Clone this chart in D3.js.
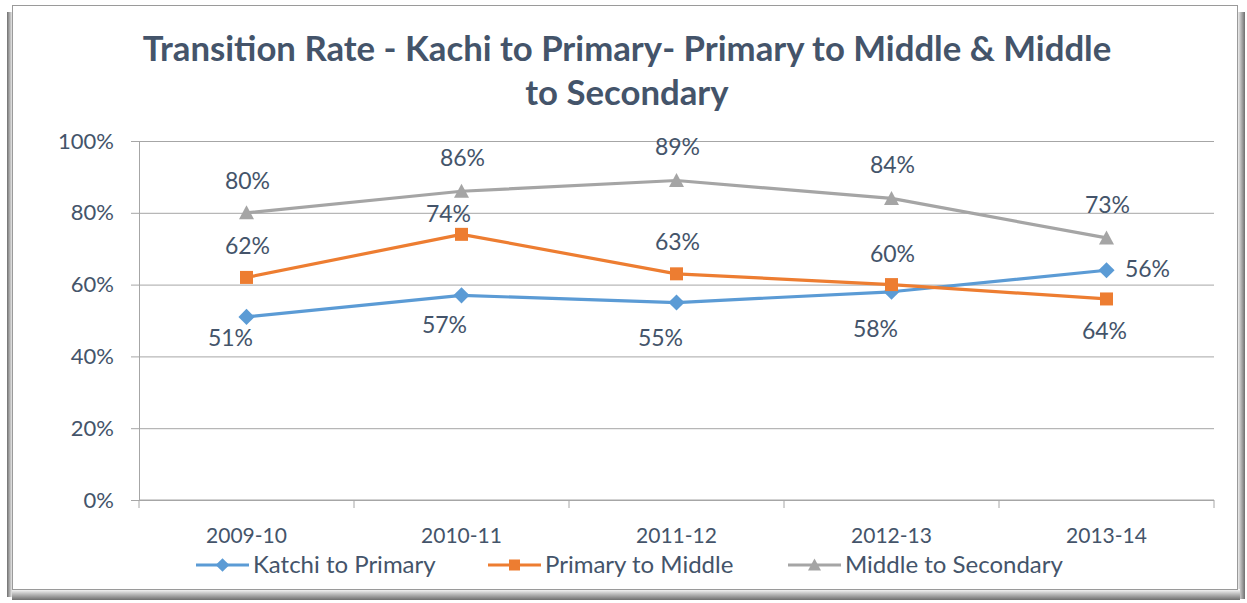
<!DOCTYPE html>
<html>
<head>
<meta charset="utf-8">
<script src="https://cdn.jsdelivr.net/npm/d3@7"></script>
<style>
    body { margin: 0; background: #ffffff; }
    svg { display: block; }
    text { font-family: Lato, "Open Sans", sans-serif; fill: #44546a; }
</style>
</head>
<body>
<svg id="chart" width="1247" height="603"></svg>
<script>
// Chart data
const categories = ['2009-10', '2010-11', '2011-12', '2012-13', '2013-14'];
const katchiToPrimary = [0.51, 0.57, 0.55, 0.58, 0.64];
const primaryToMiddle = [0.62, 0.74, 0.63, 0.60, 0.56];
const middleToSecondary = [0.80, 0.86, 0.89, 0.84, 0.73];
// Data labels as printed on the source chart (last two are swapped there)
const katchiLabels = ['51%', '57%', '55%', '58%', '56%'];
const primaryLabels = ['62%', '74%', '63%', '60%', '64%'];
const middleLabels = ['80%', '86%', '89%', '84%', '73%'];
const yTicks = [0, 0.2, 0.4, 0.6, 0.8, 1];
const titleLines = ['Transition Rate - Kachi to Primary- Primary to Middle & Middle', 'to Secondary'];

// Layout
const width = 1247, height = 603;
const plot = { left: 139, right: 1214, top: 141, bottom: 500 };
const textColor = '#44546a';
const gridColor = '#a6a6a6';

// Hand-placed label nudges (px), one list per series
const series = [
    { name: 'Katchi to Primary', values: katchiToPrimary, labels: katchiLabels, color: '#5b9bd5', marker: 'diamond',
      dx: [-16, -17, -16, -16, 41], dy: [21, 29, 35, 37, -2] },
    { name: 'Primary to Middle', values: primaryToMiddle, labels: primaryLabels, color: '#ed7d31', marker: 'square',
      dx: [1, -13, 1, 1, -2], dy: [-32, -21, -32, -31, 32] },
    { name: 'Middle to Secondary', values: middleToSecondary, labels: middleLabels, color: '#a5a5a5', marker: 'triangle',
      dx: [1, 1, 1, 1, 1], dy: [-32, -34, -34, -34, -33] }
];

const svg = d3.select('#chart');

// Frame with soft shadow on the left, right and bottom edges
const defs = svg.append('defs');
function shadowGrad(id, x1, y1, x2, y2) {
    const g = defs.append('linearGradient').attr('id', id)
        .attr('x1', x1).attr('y1', y1).attr('x2', x2).attr('y2', y2);
    g.append('stop').attr('offset', '0%').attr('stop-color', '#ffffff');
    g.append('stop').attr('offset', '45%').attr('stop-color', '#bdbdbd');
    g.append('stop').attr('offset', '100%').attr('stop-color', '#6f6f6f');
    return g;
}
shadowGrad('sh-right', 0, 0, 1, 0);
shadowGrad('sh-left', 1, 0, 0, 0);
shadowGrad('sh-bottom', 0, 0, 0, 1);

svg.append('rect').attr('x', 7).attr('y', 12).attr('width', 6).attr('height', 585).attr('fill', 'url(#sh-left)');
svg.append('rect').attr('x', 1237).attr('y', 12).attr('width', 8).attr('height', 587).attr('fill', 'url(#sh-right)');
svg.append('rect').attr('x', 12).attr('y', 589).attr('width', 1228).attr('height', 11).attr('fill', 'url(#sh-bottom)');
svg.append('rect')
    .attr('x', 12.5).attr('y', 5.5)
    .attr('width', 1225).attr('height', 584)
    .attr('fill', '#ffffff')
    .attr('stroke', '#9a9a9a')
    .attr('stroke-width', 1);

// Scales
const x = d3.scaleBand().domain(categories).range([plot.left, plot.right]).padding(0);
const cx = c => x(c) + x.bandwidth() / 2;
const y = d3.scaleLinear().domain([0, 1]).range([plot.bottom, plot.top]);

// Gridlines
svg.append('g')
    .attr('class', 'grid')
    .attr('transform', `translate(${plot.left},0)`)
    .call(d3.axisLeft(y).tickValues(yTicks).tickSize(-(plot.right - plot.left)).tickFormat(''))
    .call(g => g.select('.domain').remove())
    .selectAll('line').attr('stroke', gridColor);

// Y axis
svg.append('g')
    .attr('transform', `translate(${plot.left},0)`)
    .call(d3.axisLeft(y).tickValues(yTicks).tickSize(8).tickPadding(17).tickFormat(d3.format('.0%')))
    .call(g => g.select('.domain').attr('stroke', gridColor))
    .call(g => g.selectAll('line').attr('stroke', gridColor))
    .call(g => g.selectAll('text').attr('font-size', 22).attr('fill', textColor).style('font-family', 'Lato, sans-serif'));

// X axis: labels centred, ticks at category boundaries
svg.append('g')
    .attr('transform', `translate(0,${plot.bottom})`)
    .call(d3.axisBottom(x).tickSize(0).tickPadding(28))
    .call(g => g.select('.domain').remove())
    .call(g => g.selectAll('text').attr('font-size', 21).attr('fill', textColor).style('font-family', 'Lato, sans-serif'));

const bounds = categories.map(c => x(c)).concat([plot.right]);
svg.append('g').selectAll('line')
    .data(bounds)
    .join('line')
    .attr('x1', d => d).attr('x2', d => d)
    .attr('y1', plot.bottom).attr('y2', plot.bottom + 8)
    .attr('stroke', gridColor);
svg.append('line')
    .attr('x1', plot.left).attr('x2', plot.right)
    .attr('y1', plot.bottom).attr('y2', plot.bottom)
    .attr('stroke', gridColor);

// Marker shapes
function drawMarker(sel, type, color, size) {
    if (type === 'diamond') {
        const s = size * 0.62;
        sel.append('path').attr('d', `M0,${-s}L${s},0L0,${s}L${-s},0Z`).attr('fill', color);
    } else if (type === 'square') {
        const s = size / 2;
        sel.append('rect').attr('x', -s).attr('y', -s).attr('width', size).attr('height', size).attr('fill', color);
    } else {
        const s = size / 2;
        sel.append('path').attr('d', `M0,${-s - 1}L${s + 1},${s}L${-s - 1},${s}Z`).attr('fill', color);
    }
}

const line = d3.line()
    .x((d, i) => cx(categories[i]))
    .y(d => y(d));

series.forEach(s => {
    const g = svg.append('g').attr('class', 'series');
    g.append('path')
        .datum(s.values)
        .attr('d', line)
        .attr('fill', 'none')
        .attr('stroke', s.color)
        .attr('stroke-width', 3.2)
        .attr('stroke-linejoin', 'round');

    g.selectAll('g.marker')
        .data(s.values)
        .join('g')
        .attr('class', 'marker')
        .attr('transform', (d, i) => `translate(${cx(categories[i])},${y(d)})`)
        .each(function () { drawMarker(d3.select(this), s.marker, s.color, 13); });
});

// Data labels drawn on top of all lines
series.forEach(s => {
    svg.append('g').selectAll('text')
        .data(s.values)
        .join('text')
        .attr('x', (d, i) => cx(categories[i]) + s.dx[i])
        .attr('y', (d, i) => y(d) + s.dy[i])
        .attr('dy', '0.36em')
        .attr('text-anchor', 'middle')
        .attr('font-size', 23)
        .attr('fill', textColor)
        .text((d, i) => s.labels[i]);
});

// Title, squeezed horizontally to the narrow width of the original face
const title = svg.append('g');
const titleText = title.selectAll('text')
    .data(titleLines)
    .join('text')
    .attr('x', 0)
    .attr('y', (d, i) => i * 44)
    .attr('text-anchor', 'middle')
    .attr('font-size', 35)
    .attr('font-weight', 'bold')
    .attr('fill', textColor)
    .text(d => d);
const natural = titleText.node().getComputedTextLength();
const k = 969 / natural;
title.attr('transform', `translate(627,61) scale(${k},1)`);

// Legend
const legendItems = [
    { s: series[0], x: 196 },
    { s: series[1], x: 488 },
    { s: series[2], x: 788 }
];
const legend = svg.append('g').attr('transform', 'translate(0,565)');
legendItems.forEach(item => {
    const g = legend.append('g').attr('transform', `translate(${item.x},0)`);
    g.append('line')
        .attr('x1', 0).attr('x2', 53)
        .attr('stroke', item.s.color)
        .attr('stroke-width', 3.2);
    const m = g.append('g').attr('transform', 'translate(26.5,0)');
    drawMarker(m, item.s.marker, item.s.color, 11);
    g.append('text')
        .attr('x', 57)
        .attr('dy', '0.33em')
        .attr('font-size', 24)
        .attr('fill', textColor)
        .text(item.s.name);
});
</script>
</body>
</html>
